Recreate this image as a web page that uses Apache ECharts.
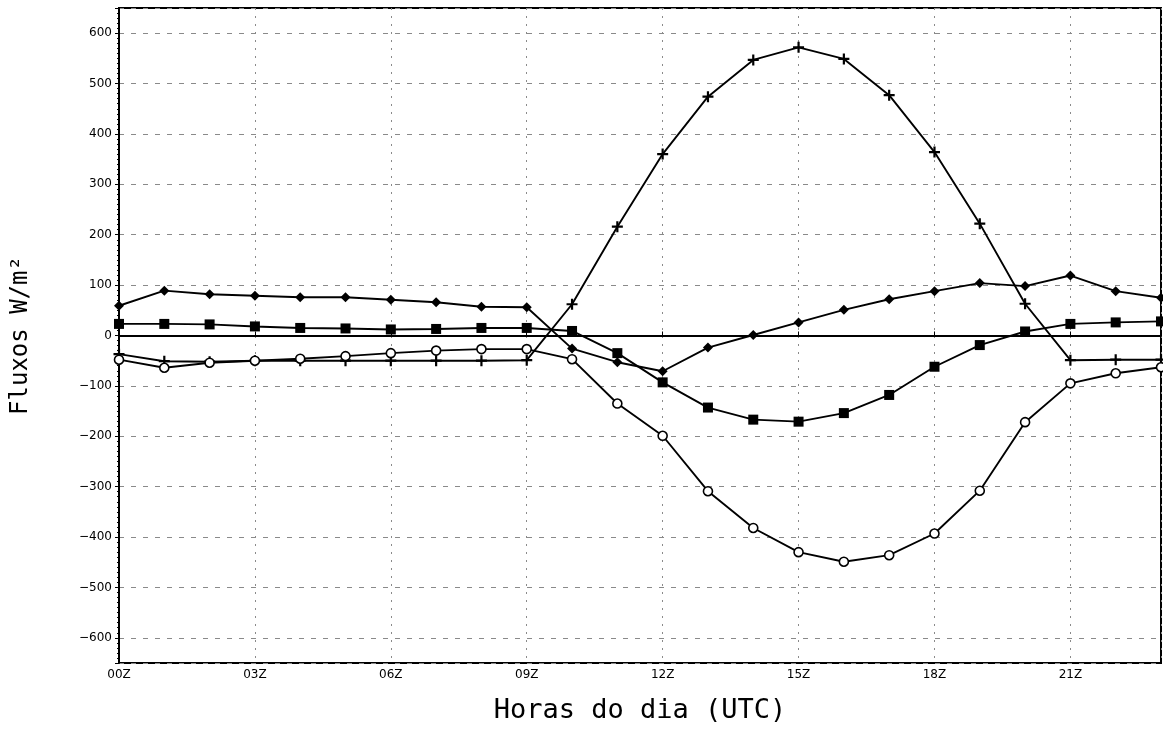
<!DOCTYPE html>
<html>
<head>
    <meta charset="UTF-8">
    <script type="text/javascript" src="https://cdn.jsdelivr.net/npm/echarts@6/dist/echarts.min.js"></script>
    <title>Fluxos</title>
    <style>
        html, body { margin: 0; padding: 0; background: #fff; overflow: hidden; }
        #fluxos { width: 1163px; height: 729px; }
    </style>
</head>
<body>
    <div id="fluxos"></div>
    <script type="text/javascript">
    // horas (UTC) e valores, W/m2
    var horas = [0, 1, 2, 3, 4, 5, 6, 7, 8, 9, 10, 11, 12, 13, 14, 15, 16, 17, 18, 19, 20, 21, 22, 23];
    var serieCruz = [-37, -51, -52, -50, -50, -50, -50, -50, -50, -49, 62, 216, 360, 474, 547, 572, 549, 477, 364, 222, 63, -49, -48, -48];
    var serieCirculo = [-48, -64, -54, -50, -46, -41, -35, -30, -27, -27, -47, -135, -199, -309, -382, -430, -449, -436, -393, -308, -172, -95, -75, -63];
    var serieLosango = [59, 89, 82, 79, 76, 76, 71, 66, 57, 56, -26, -53, -71, -24, 1, 26, 51, 72, 88, 104, 98, 119, 88, 75];
    var serieQuadrado = [23, 23, 22, 18, 15, 14, 12, 13, 15, 15, 9, -35, -93, -143, -167, -171, -154, -118, -62, -19, 8, 23, 26, 28];

    var fonte = 'DejaVu Sans';
    var fonteTitulo = 'DejaVu Sans Mono';
    var simboloCruz = 'path://M4,0 L6,0 L6,4 L10,4 L10,6 L6,6 L6,10 L4,10 L4,6 L0,6 L0,4 L4,4 Z';

    function pares(vals) {
        var out = [];
        for (var i = 0; i < horas.length; i++) {
            out.push([horas[i], vals[i]]);
        }
        return out;
    }

    function linha(vals, simbolo, tamanho, preenchido) {
        return {
            type: 'line',
            data: pares(vals),
            symbol: simbolo,
            symbolSize: tamanho,
            showAllSymbol: true,
            clip: false,
            lineStyle: { color: '#000', width: 1.9 },
            itemStyle: {
                color: preenchido ? '#000' : '#fff',
                borderColor: '#000',
                borderWidth: preenchido ? 0 : 1.6
            },
            animation: false
        };
    }

    function fluxosInit() {
        var chart = echarts.init(document.getElementById('fluxos'));
        var sLosango = linha(serieLosango, 'diamond', 10, true);
        // linha do zero
        sLosango.markLine = {
            silent: true,
            symbol: ['none', 'none'],
            label: { show: false },
            lineStyle: { color: '#000', width: 2, type: 'solid' },
            data: [{ yAxis: 0 }],
            animation: false
        };
        var option = {
            backgroundColor: '#fff',
            grid: {
                left: 119,
                right: 2,
                top: 8,
                bottom: 64,
                show: true,
                borderColor: '#000',
                borderWidth: 2
            },
            xAxis: {
                type: 'value',
                min: 0,
                max: 23,
                interval: 3,
                name: 'Horas do dia (UTC)',
                nameLocation: 'middle',
                nameGap: 34,
                nameTextStyle: { fontFamily: fonteTitulo, fontSize: 27, color: '#000' },
                axisLine: { show: true, lineStyle: { color: '#000', width: 2 } },
                axisTick: { show: true, inside: true, length: 4, lineStyle: { color: '#000' } },
                axisLabel: {
                    fontFamily: fonte,
                    fontSize: 12,
                    color: '#000',
                    margin: 6,
                    showMaxLabel: false,
                    formatter: function(v) {
                        return (v < 10 ? '0' + v : '' + v) + 'Z';
                    }
                },
                splitLine: {
                    show: true,
                    lineStyle: { color: '#8a8a8a', width: 1, type: [2, 6] }
                }
            },
            yAxis: {
                type: 'value',
                min: -650,
                max: 650,
                splitNumber: 13,
                name: 'Fluxos W/m\u00b2',
                nameLocation: 'middle',
                nameGap: 86,
                nameTextStyle: { fontFamily: fonteTitulo, fontSize: 24, color: '#000' },
                axisLine: { show: true, lineStyle: { color: '#000', width: 2 } },
                axisTick: { show: true, length: 4, lineStyle: { color: '#000' } },
                minorTick: { show: true, splitNumber: 10, length: 2, lineStyle: { color: '#000' } },
                axisLabel: {
                    fontFamily: fonte,
                    fontSize: 12,
                    color: '#000',
                    margin: 7,
                    showMinLabel: false,
                    showMaxLabel: false,
                    formatter: function(v) {
                        return v < 0 ? '\u2212' + (-v) : '' + v;
                    }
                },
                splitLine: {
                    show: true,
                    lineStyle: { color: '#8a8a8a', width: 1, type: [5, 7] }
                }
            },
            series: [
                sLosango,
                linha(serieQuadrado, 'rect', 10, true),
                linha(serieCruz, simboloCruz, 11, true),
                linha(serieCirculo, 'circle', 9, false)
            ]
        };
        chart.setOption(option);
    }
    fluxosInit();
    </script>
</body>
</html>
